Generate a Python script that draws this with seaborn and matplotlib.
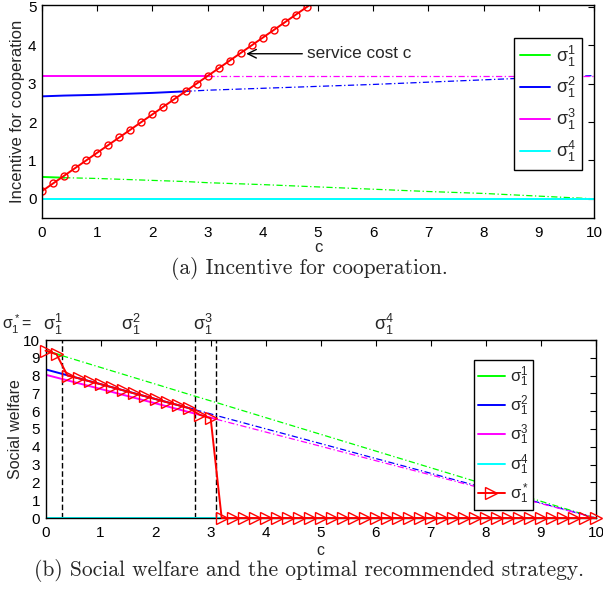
import numpy as np
import matplotlib
matplotlib.use('Agg')
import matplotlib.pyplot as plt
import seaborn as sns
from matplotlib.lines import Line2D
from matplotlib.transforms import blended_transform_factory

# ---------------- data: panel (a) incentive for cooperation ----------------
inc_c = [0, 0.4, 1, 2, 2.6, 3, 4, 5, 6, 7, 8, 9, 10]
inc_s1 = [0.57, 0.55, 0.53, 0.48, 0.45, 0.42, 0.37, 0.31, 0.25, 0.19, 0.14, 0.07, 0.0]
inc_s2 = [2.67, 2.69, 2.71, 2.76, 2.80, 2.83, 2.88, 2.93, 2.98, 3.04, 3.10, 3.16, 3.21]
inc_s3 = [3.2, 3.2, 3.2, 3.2, 3.2, 3.2, 3.2, 3.2, 3.2, 3.2, 3.2, 3.2, 3.2]
inc_s4 = [0, 0, 0, 0, 0, 0, 0, 0, 0, 0, 0, 0, 0]
inc_split = [0.4, 2.6, 3.0, 10.0]          # solid up to here, dash-dot after

cost_c = [0.0, 0.2, 0.4, 0.6, 0.8, 1.0, 1.2, 1.4, 1.6, 1.8, 2.0, 2.2, 2.4,
          2.6, 2.8, 3.0, 3.2, 3.4, 3.6, 3.8, 4.0, 4.2, 4.4, 4.6, 4.8, 5.0]
cost_val = [0.2, 0.4, 0.6, 0.8, 1.0, 1.2, 1.4, 1.6, 1.8, 2.0, 2.2, 2.4, 2.6,
            2.8, 3.0, 3.2, 3.4, 3.6, 3.8, 4.0, 4.2, 4.4, 4.6, 4.8, 5.0, 5.2]

# ---------------- data: panel (b) social welfare ----------------
sw_c = [0, 0.3, 1, 2, 2.72, 3, 3.1, 4, 5, 6, 7, 8, 9, 10]
sw_s1 = [9.40, 9.12, 8.46, 7.52, 6.84, 6.58, 6.49, 5.64, 4.70, 3.76, 2.82, 1.88, 0.94, 0.0]
sw_s2 = [8.35, 8.10, 7.52, 6.68, 6.08, 5.85, 5.76, 5.01, 4.18, 3.34, 2.51, 1.67, 0.84, 0.0]
sw_s3 = [8.05, 7.81, 7.25, 6.44, 5.86, 5.64, 5.55, 4.83, 4.03, 3.22, 2.42, 1.61, 0.81, 0.0]
sw_s4 = [0, 0, 0, 0, 0, 0, 0, 0, 0, 0, 0, 0, 0, 0]
sw_split = [0.3, 2.72, 3.1, 10.0]
sw_bounds = [0.3, 2.72, 3.1]

opt_c = [0.0, 0.2, 0.4, 0.6, 0.8, 1.0, 1.2, 1.4, 1.6, 1.8, 2.0, 2.2, 2.4, 2.6,
         2.8, 3.0, 3.2, 3.4, 3.6, 3.8, 4.0, 4.2, 4.4, 4.6, 4.8, 5.0, 5.2, 5.4,
         5.6, 5.8, 6.0, 6.2, 6.4, 6.6, 6.8, 7.0, 7.2, 7.4, 7.6, 7.8, 8.0, 8.2,
         8.4, 8.6, 8.8, 9.0, 9.2, 9.4, 9.6, 9.8, 10.0]
opt_val = [9.4, 9.2, 8.0, 7.85, 7.68, 7.52, 7.35, 7.18, 7.01, 6.85, 6.68, 6.51,
           6.35, 6.18, 5.8, 5.6, 0, 0, 0, 0, 0, 0, 0, 0, 0, 0, 0, 0, 0, 0, 0,
           0, 0, 0, 0, 0, 0, 0, 0, 0, 0, 0, 0, 0, 0, 0, 0, 0, 0, 0, 0]

labels = [r'$\sigma_1^1$', r'$\sigma_1^2$', r'$\sigma_1^3$', r'$\sigma_1^4$']
opt_label = r'$\sigma_1^*$'
colors = ['#00ff00', '#0000ff', '#ff00ff', '#00ffff']
region_x = [0.14, 1.55, 2.86, 6.15]

# ---------------- style ----------------
sns.set_theme(style='white')
plt.rcParams['font.family'] = ['Liberation Sans', 'DejaVu Sans']
plt.rcParams['mathtext.fontset'] = 'custom'
plt.rcParams['mathtext.rm'] = 'Liberation Sans'
plt.rcParams['mathtext.it'] = 'Liberation Sans'
plt.rcParams['mathtext.bf'] = 'Liberation Sans:bold'
plt.rcParams['axes.edgecolor'] = 'black'
plt.rcParams['axes.linewidth'] = 1.0

DASHDOT = (0, (5, 2, 1, 2))

fig = plt.figure(figsize=(6.03, 5.90), dpi=100)
W, H = 603, 590
ax1 = fig.add_axes([42 / W, 1 - 218 / H, (594 - 42) / W, (218 - 5) / H])
ax2 = fig.add_axes([45.5 / W, 1 - 518 / H, (596 - 45.5) / W, (518 - 340) / H])


def draw_strategy(ax, x, y, split, color):
    x = np.asarray(x, float)
    y = np.asarray(y, float)
    m1 = x <= split + 1e-9
    m2 = x >= split - 1e-9
    sns.lineplot(x=x[m1], y=y[m1], ax=ax, color=color, lw=1.4,
                 sort=False, estimator=None, legend=False)
    if m2.sum() > 1:
        sns.lineplot(x=x[m2], y=y[m2], ax=ax, color=color, lw=0.9,
                     linestyle=DASHDOT, sort=False, estimator=None, legend=False)


def style_axes(ax):
    ax.tick_params(direction='in', top=True, right=True, length=4, width=0.8,
                   labelsize=11, pad=4, colors='black')
    ax.tick_params(axis='x', pad=6)
    for s in ax.spines.values():
        s.set_visible(True)
        s.set_color('black')
        s.set_linewidth(1.0)
    ax.grid(False)


# ---------------- panel (a) ----------------
for ys, sp, col in zip([inc_s1, inc_s2, inc_s3, inc_s4], inc_split, colors):
    draw_strategy(ax1, inc_c, ys, sp, col)
sns.lineplot(x=cost_c, y=cost_val, ax=ax1, color='red', lw=1.4, marker='o',
             markersize=5, markerfacecolor='none', markeredgecolor='red',
             markeredgewidth=1.0, sort=False, estimator=None, legend=False)
ax1.set_xlim(0, 10)
ax1.set_ylim(-0.5, 5.05)
ax1.set_xticks(range(0, 11))
ax1.set_yticks(range(0, 6))
style_axes(ax1)
ax1.set_xlabel('c', fontsize=12)
ax1.xaxis.set_label_coords(0.5, -0.137)
ax1.xaxis.label.set_va('center')
ax1.set_ylabel('Incentive for cooperation', fontsize=12)
ax1.yaxis.set_label_coords(-0.045, 0.5)
ax1.yaxis.label.set_va('center')
ax1.annotate('service cost c', xy=(3.70, 3.78), xytext=(4.80, 3.78),
             fontsize=12.3, va='center', ha='left',
             arrowprops=dict(arrowstyle='->,head_length=0.5,head_width=0.25',
                             color='black', lw=1.0, shrinkA=1, shrinkB=0))
h1 = [Line2D([], [], color=c, lw=1.4) for c in colors]
leg1 = ax1.legend(h1, labels, loc='upper right', bbox_to_anchor=(0.978, 0.845),
                  fontsize=13, handlelength=1.65, handletextpad=0.35,
                  labelspacing=0.38, borderpad=0.3, borderaxespad=0,
                  frameon=True, fancybox=False, framealpha=1, edgecolor='black')
leg1.get_frame().set_linewidth(1.0)

# ---------------- panel (b) ----------------
for ys, sp, col in zip([sw_s1, sw_s2, sw_s3, sw_s4], sw_split, colors):
    draw_strategy(ax2, sw_c, ys, sp, col)
for b in sw_bounds:
    ax2.axvline(b, color='black', lw=1.0, linestyle=(0, (4, 2)), zorder=1)
sns.lineplot(x=opt_c, y=opt_val, ax=ax2, color='red', lw=1.4, marker='>',
             markersize=8, markerfacecolor='none', markeredgecolor='red',
             markeredgewidth=1.0, sort=False, estimator=None, legend=False,
             clip_on=False, zorder=5)
ax2.set_xlim(0, 10)
ax2.set_ylim(0, 10)
ax2.set_xticks(range(0, 11))
ax2.set_yticks(range(0, 11))
style_axes(ax2)
ax2.set_xlabel('c', fontsize=11.5)
ax2.xaxis.set_label_coords(0.5, -0.18)
ax2.xaxis.label.set_va('center')
ax2.set_ylabel('Social welfare', fontsize=11.5)
ax2.yaxis.set_label_coords(-0.054, 0.5)
ax2.yaxis.label.set_va('center')

trans = blended_transform_factory(ax2.transData, ax2.transAxes)
for lab, xp in zip(labels, region_x):
    ax2.text(xp, 1.09, lab, transform=trans, ha='center', va='center', fontsize=13)
fig.text(2 / W, 1 - 324 / H, opt_label + '=', ha='left', va='center', fontsize=11.5)

h2 = [Line2D([], [], color=c, lw=1.4) for c in colors]
h2.append(Line2D([], [], color='red', lw=1.4, marker='>', markersize=8,
                 markerfacecolor='none', markeredgecolor='red'))
leg2 = ax2.legend(h2, labels + [opt_label], loc='upper right',
                  bbox_to_anchor=(0.886, 0.888), fontsize=12, handlelength=1.6,
                  handletextpad=0.3, labelspacing=0.3, borderpad=0.25,
                  borderaxespad=0, frameon=True, fancybox=False, framealpha=1,
                  edgecolor='black')
leg2.get_frame().set_linewidth(1.0)

# ---------------- captions ----------------
fig.text(309 / W, 1 - 269 / H, '(a) Incentive for cooperation.', ha='center',
         va='center', family='cmr10', fontsize=15.5)
fig.text(309 / W, 1 - 570 / H, '(b) Social welfare and the optimal recommended strategy.',
         ha='center', va='center', family='cmr10', fontsize=15.5)

fig.savefig('out.png', dpi=100)
